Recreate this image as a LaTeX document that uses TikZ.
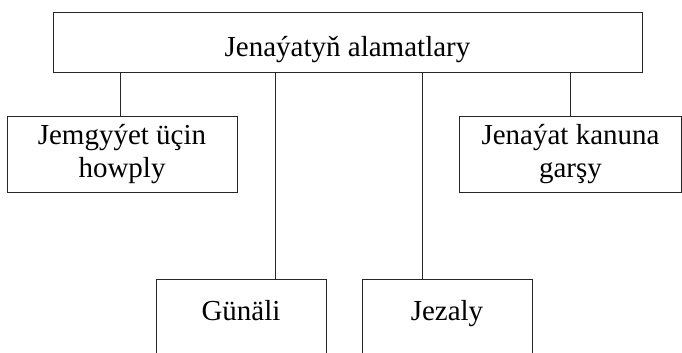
\documentclass[tikz,border=0pt]{standalone}
\usepackage{fontspec}
\setmainfont{Liberation Serif}
\usepackage{tikz}
\usetikzlibrary{calc,positioning}

\tikzset{
	blok/.style={draw=black!85, line width=0.9pt, inner sep=0pt, align=center},
	setir/.style={text height=0.7em, text depth=0.25em},
	cyzyk/.style={draw=black!85, line width=0.9pt}
}

\begin{document}
\begin{tikzpicture}[x=1pt,y=1pt,font=\fontsize{29}{33}\selectfont]
    							\clip (0,0) rectangle (682,353);

    							\coordinate (x1) at (120,0);
   								\coordinate (x2) at (275,0);
   								\coordinate (x3) at (422,0);
   								\coordinate (x4) at (570,0);

							    \node[blok, setir, text height=31pt, minimum width=589pt, minimum height=60pt] (alamat) at (347.5,311) {Jenaýatyň alamatlary};

							    \node[blok, minimum width=230pt, minimum height=76pt] (howply) at (122,199) {Jemgyýet üçin\\howply};
							    \node[blok, minimum width=222pt, minimum height=76pt] (garsy) at (570.5,199) {Jenaýat kanuna\\garşy};

							    \node[blok, setir, minimum width=170pt, minimum height=79pt] (gunali) at (241,34.5) {Günäli};
							    \node[blok, setir, minimum width=170pt, minimum height=79pt] (jezaly) at (447,34.5) {Jezaly};

								\draw[cyzyk] (alamat.south -| x1) -- (howply.north -| x1);
								\draw[cyzyk] (alamat.south -| x2) -- (gunali.north -| x2);
								\draw[cyzyk] (alamat.south -| x3) -- (jezaly.north -| x3);
								\draw[cyzyk] (alamat.south -| x4) -- (garsy.north -| x4);
						  \end{tikzpicture}
\end{document}
